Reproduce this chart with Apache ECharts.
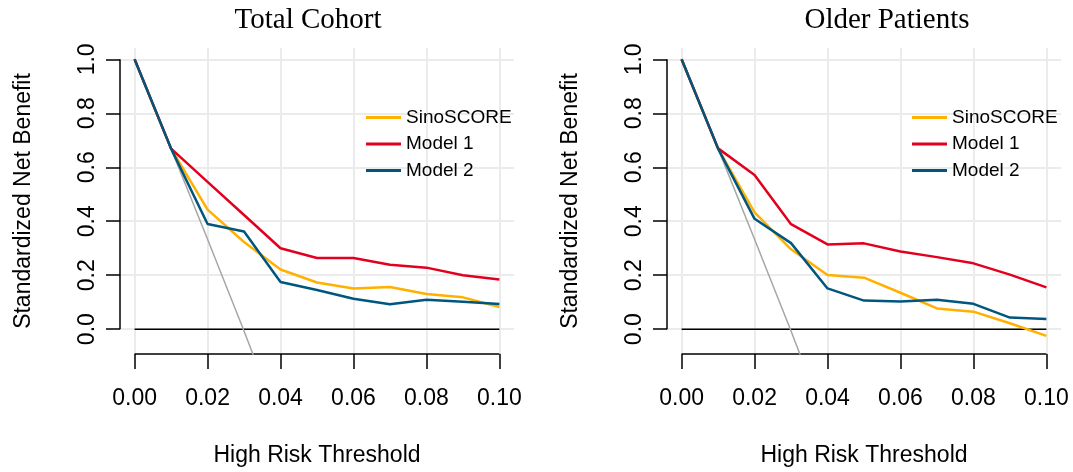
<!DOCTYPE html>
<html>
<head>
<meta charset="utf-8">
<title>Standardized net benefit</title>
<script src="https://cdn.jsdelivr.net/npm/echarts@6/dist/echarts.min.js"></script>
<style>
html, body { margin: 0; padding: 0; background: #fff; }
#chart { width: 1073px; height: 472px; }
</style>
</head>
<body>
<div id="chart"></div>
<script>
// x positions of the curves
const thresholds = [0, 0.01, 0.02, 0.03, 0.04, 0.05, 0.06, 0.07, 0.08, 0.09, 0.1]
const xTicks = [0, 0.02, 0.04, 0.06, 0.08, 0.1]
const yTicks = [0, 0.2, 0.4, 0.6, 0.8, 1.0]
const xLimits = [-0.004, 0.104]
const yLimits = [-0.092, 1.042]

// treat all (grey) - runs off the bottom of the plot after 0.03
const treatAllX = [0, 0.01, 0.02, 0.03, 0.04]
const treatAll = [1.0, 0.669, 0.333, -0.007, -0.36]
// treat none (black)
const treatNoneX = [0, 0.1]
const treatNone = [0, 0]

// Total Cohort
const totalSino = [1.0, 0.669, 0.443, 0.323, 0.221, 0.173, 0.151, 0.156, 0.130, 0.118, 0.082]
const totalModel1 = [1.0, 0.669, 0.546, 0.423, 0.300, 0.264, 0.264, 0.239, 0.228, 0.200, 0.184]
const totalModel2 = [1.0, 0.669, 0.390, 0.362, 0.175, 0.145, 0.113, 0.092, 0.109, 0.102, 0.093]

// Older Patients
const olderSino = [1.0, 0.669, 0.433, 0.296, 0.201, 0.191, 0.135, 0.077, 0.065, 0.022, -0.025]
const olderModel1 = [1.0, 0.670, 0.571, 0.389, 0.314, 0.318, 0.288, 0.267, 0.244, 0.202, 0.155]
const olderModel2 = [1.0, 0.669, 0.409, 0.319, 0.151, 0.106, 0.103, 0.109, 0.094, 0.043, 0.038]

const seriesNames = ['SinoSCORE', 'Model 1', 'Model 2']
const seriesColors = ['#ffb000', '#e3001f', '#00567d']

const sans = 'Liberation Sans, Arial, Helvetica, sans-serif'
const serif = 'Liberation Serif, Times New Roman, serif'

const panels = [
  { title: 'Total Cohort', titleX: 308, legendX: 366, grid: { left: 120, right: 559, top: 48, bottom: 116 }, curves: [totalSino, totalModel1, totalModel2] },
  { title: 'Older Patients', titleX: 887, legendX: 912, grid: { left: 667, right: 12, top: 48, bottom: 116 }, curves: [olderSino, olderModel1, olderModel2] }
]

function pairs(xs, ys) {
  return xs.map((x, i) => [x, ys[i]])
}

const grids = []
const xAxes = []
const yAxes = []
const legends = []
const graphics = []
const series = []

panels.forEach((p, i) => {
  grids.push(p.grid)
  xAxes.push({
    type: 'value',
    gridIndex: i,
    min: xLimits[0],
    max: xLimits[1],
    axisLine: { show: false, onZero: false },
    axisTick: { show: true, customValues: xTicks, length: 15, lineStyle: { color: '#000', width: 1.5 } },
    axisLabel: {
      customValues: xTicks,
      formatter: v => v.toFixed(2),
      fontSize: 23,
      color: '#000',
      fontFamily: sans,
      margin: 33
    },
    splitLine: { show: true, lineStyle: { color: '#ebebeb', width: 2 } },
    name: 'High Risk Threshold',
    nameLocation: 'middle',
    nameGap: 90,
    nameTextStyle: { fontSize: 23, color: '#000', fontFamily: sans }
  })
  yAxes.push({
    type: 'value',
    gridIndex: i,
    min: yLimits[0],
    max: yLimits[1],
    axisLine: { show: false, onZero: false },
    axisTick: { show: true, customValues: yTicks, length: 14, lineStyle: { color: '#000', width: 1.5 } },
    axisLabel: {
      customValues: yTicks,
      formatter: v => v.toFixed(1),
      rotate: 90,
      fontSize: 23,
      color: '#000',
      fontFamily: sans,
      margin: 21
    },
    splitLine: { show: true, lineStyle: { color: '#ebebeb', width: 2 } },
    name: 'Standardized Net Benefit',
    nameLocation: 'middle',
    nameGap: 85,
    nameTextStyle: { fontSize: 23, color: '#000', fontFamily: sans }
  })
  legends.push({
    data: seriesNames,
    orient: 'vertical',
    left: p.legendX,
    top: 108,
    padding: 0,
    icon: 'rect',
    itemWidth: 35,
    itemHeight: 3,
    itemGap: 7.5,
    selectedMode: false,
    textStyle: { fontSize: 19, color: '#000', fontFamily: sans }
  })
  graphics.push({
    type: 'text',
    x: p.titleX,
    y: 6,
    style: { text: p.title, align: 'center', verticalAlign: 'top', fontSize: 29, fontFamily: serif, fill: '#000' }
  })

  // axis lines only between first and last tick, like base R
  series.push({
    type: 'line', xAxisIndex: i, yAxisIndex: i, silent: true, clip: false, symbol: 'none',
    lineStyle: { color: '#000', width: 1.5 },
    data: [[xTicks[0], yLimits[0]], [xTicks[xTicks.length - 1], yLimits[0]]]
  })
  series.push({
    type: 'line', xAxisIndex: i, yAxisIndex: i, silent: true, clip: false, symbol: 'none',
    lineStyle: { color: '#000', width: 1.5 },
    data: [[xLimits[0], yTicks[0]], [xLimits[0], yTicks[yTicks.length - 1]]]
  })

  series.push({
    type: 'line', xAxisIndex: i, yAxisIndex: i, silent: true, symbol: 'none',
    lineStyle: { color: '#000', width: 1.5 },
    data: pairs(treatNoneX, treatNone)
  })
  series.push({
    type: 'line', xAxisIndex: i, yAxisIndex: i, silent: true, symbol: 'none',
    lineStyle: { color: '#a6a6a6', width: 1.5 },
    data: pairs(treatAllX, treatAll)
  })
  p.curves.forEach((ys, k) => {
    series.push({
      name: seriesNames[k],
      type: 'line', xAxisIndex: i, yAxisIndex: i, symbol: 'none',
      color: seriesColors[k],
      lineStyle: { color: seriesColors[k], width: 2.5 },
      data: pairs(thresholds, ys)
    })
  })
})

const chart = echarts.init(document.getElementById('chart'), null, { renderer: 'canvas' })
chart.setOption({
  animation: false,
  backgroundColor: '#fff',
  grid: grids,
  xAxis: xAxes,
  yAxis: yAxes,
  legend: legends,
  graphic: graphics,
  series: series
})
</script>
</body>
</html>
